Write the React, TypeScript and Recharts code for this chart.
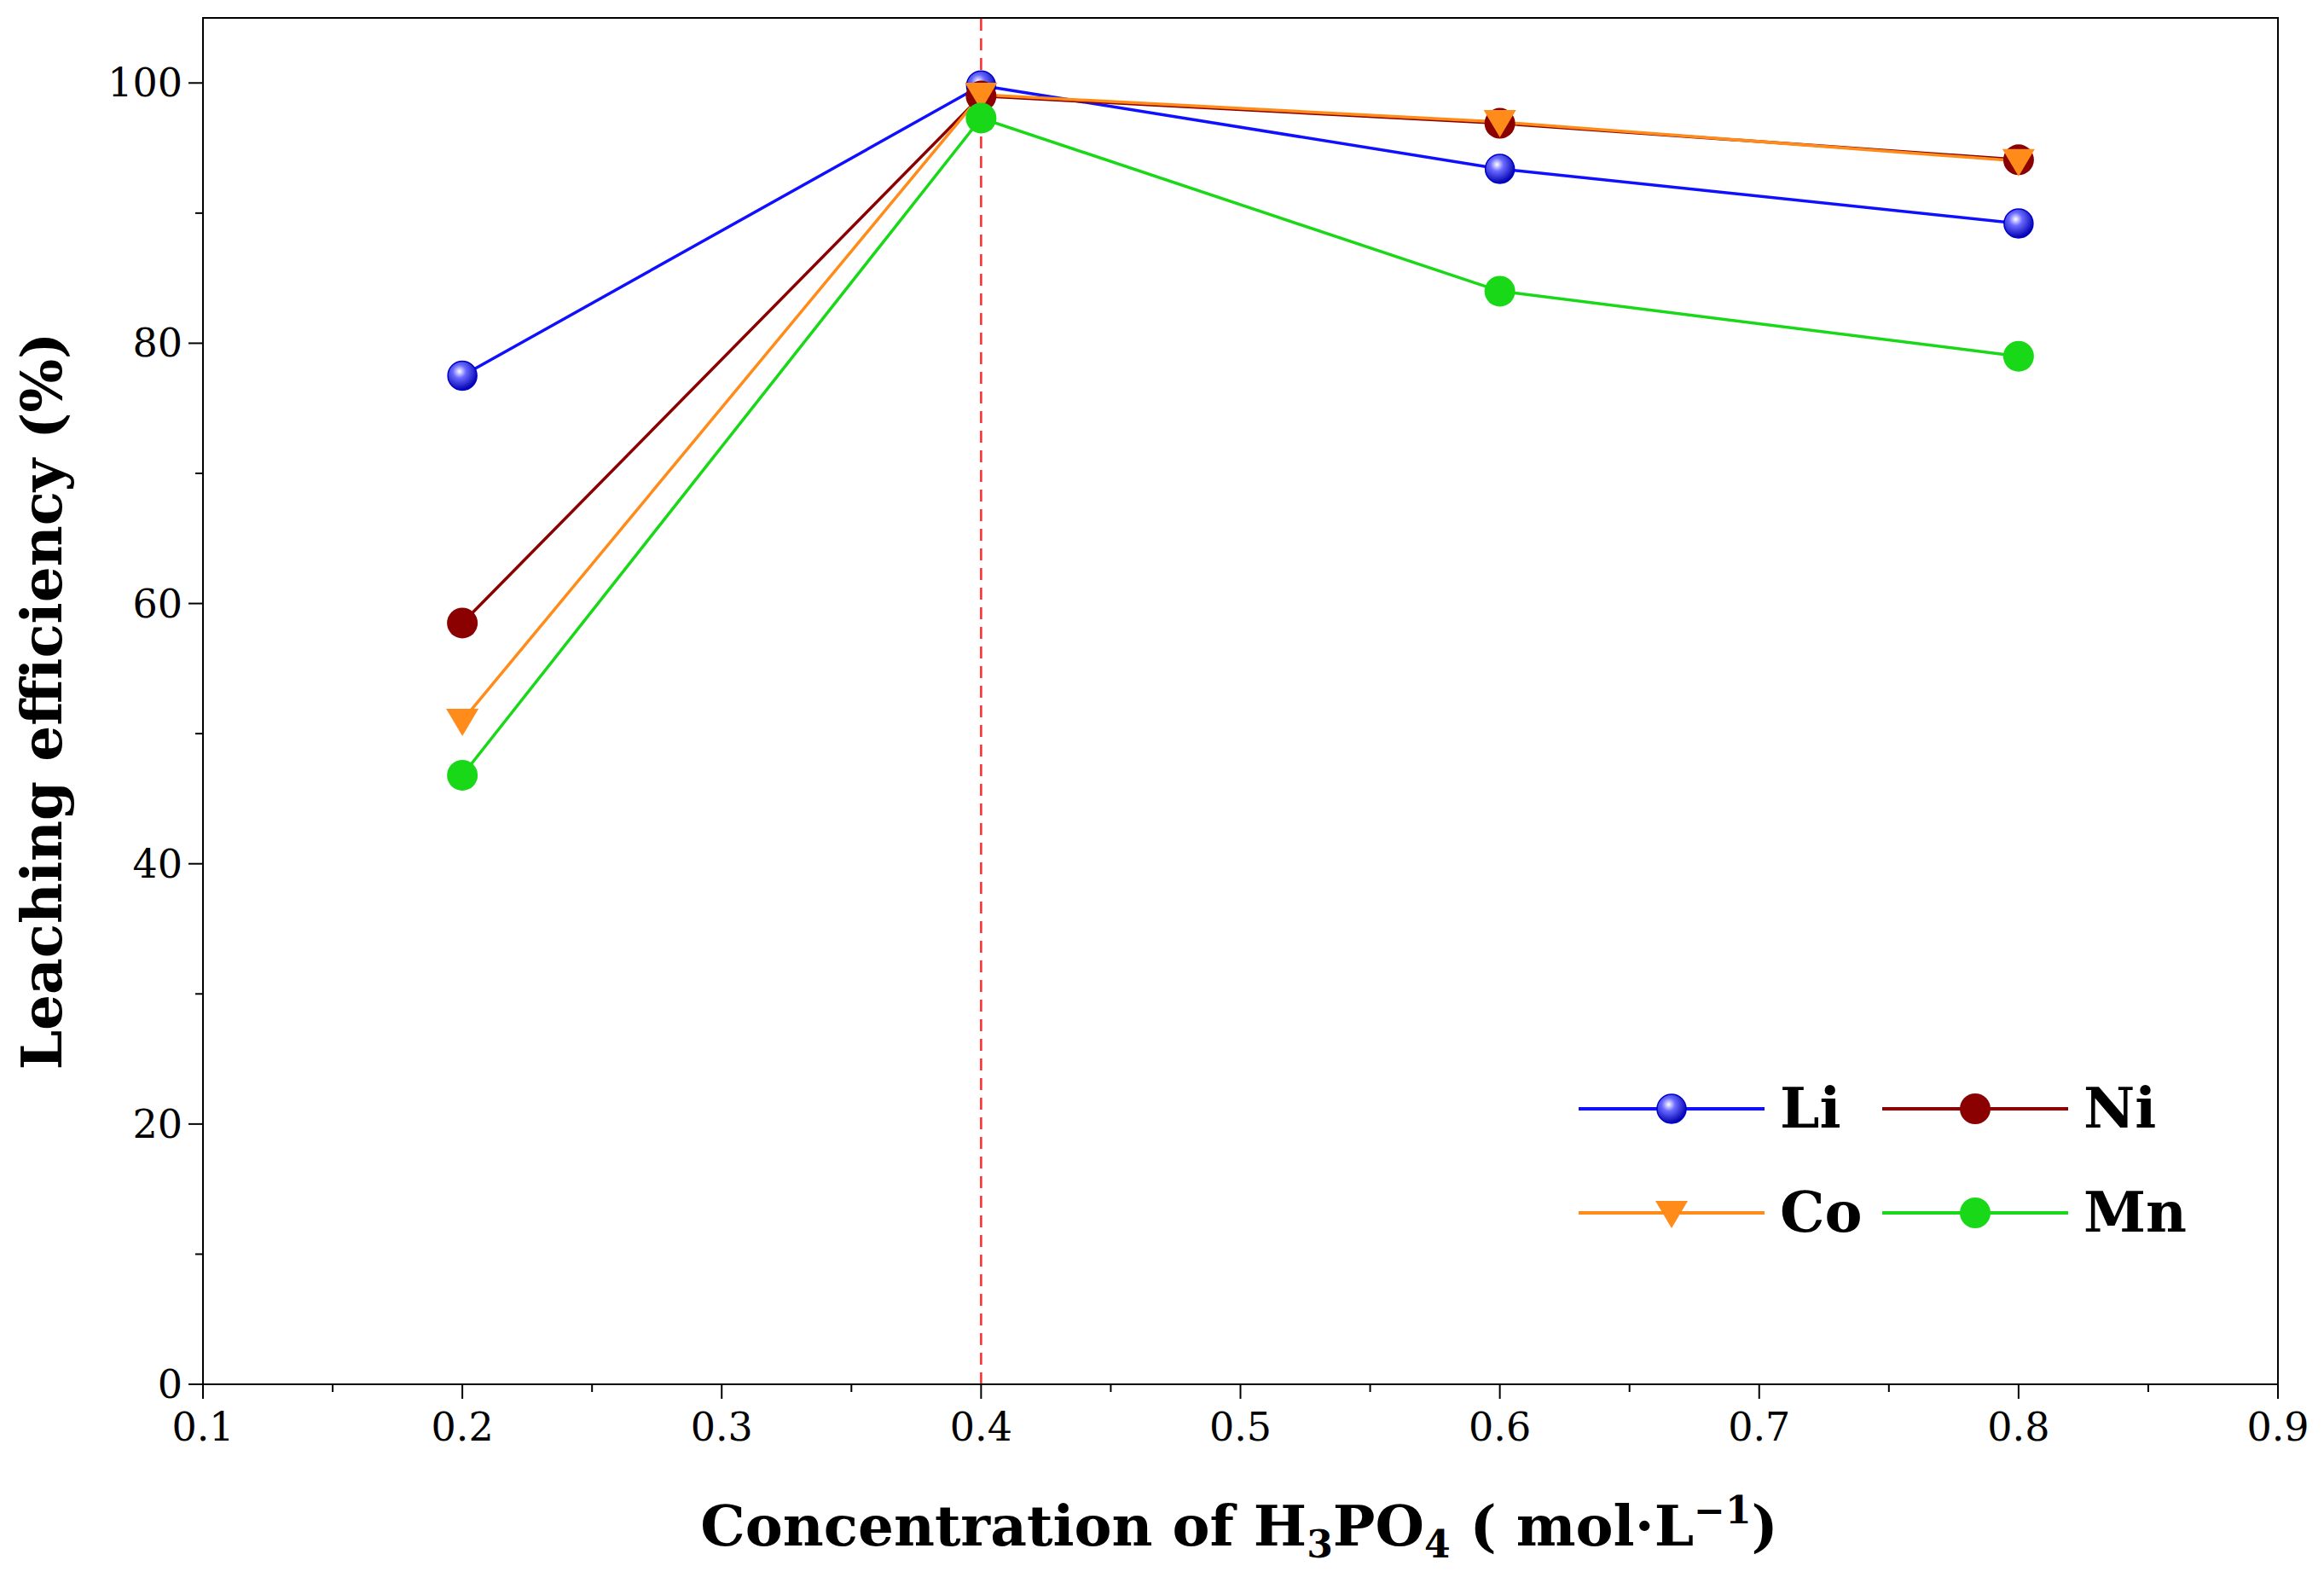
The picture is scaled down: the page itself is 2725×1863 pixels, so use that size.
import React from 'react';
import { LineChart, Line, XAxis, YAxis, ReferenceLine, ReferenceArea } from 'recharts';

const concentrations = [0.2, 0.4, 0.6, 0.8];
const li = [77.5, 99.8, 93.4, 89.2];
const ni = [58.5, 99.0, 96.9, 94.1];
const co = [51.0, 99.1, 97.0, 94.0];
const mn = [46.8, 97.3, 84.0, 79.0];

const xTicks = [0.1, 0.15, 0.2, 0.25, 0.3, 0.35, 0.4, 0.45, 0.5, 0.55, 0.6, 0.65, 0.7, 0.75, 0.8, 0.85, 0.9];
const yTicks = [0, 10, 20, 30, 40, 50, 60, 70, 80, 90, 100];

const data = concentrations.map((c, i) => ({ c, li: li[i], ni: ni[i], co: co[i], mn: mn[i] }));

const FONT = '"DejaVu Serif", "Liberation Serif", serif';

const isMajorX = (v: number) => Math.abs(Math.round(v * 10) - v * 10) < 1e-6;

const XTick = (p: any) => {
  const v = p.payload.value;
  const major = isMajorX(v);
  const y = p.y - 8;
  return (
    <g>
      <line x1={p.x} x2={p.x} y1={y} y2={y + (major ? 17 : 9)} stroke="#000" strokeWidth={2} />
      {major && (
        <text x={p.x} y={y + 66} textAnchor="middle" fontFamily={FONT} fontSize={46}>{v.toFixed(1)}</text>
      )}
    </g>
  );
};

const YTick = (p: any) => {
  const v = p.payload.value;
  const major = v % 20 === 0;
  const x = p.x + 8;
  return (
    <g>
      <line x1={x} x2={x - (major ? 17 : 9)} y1={p.y} y2={p.y} stroke="#000" strokeWidth={2} />
      {major && (
        <text x={x - 24} y={p.y + 16} textAnchor="end" fontFamily={FONT} fontSize={46}>{v}</text>
      )}
    </g>
  );
};

const LiDot = (p: any) => (
  <circle cx={p.cx} cy={p.cy} r={17} fill="url(#liGrad)" stroke="#0000cc" strokeWidth={1.5} />
);
const NiDot = (p: any) => <circle cx={p.cx} cy={p.cy} r={18} fill="#8b0000" />;
const MnDot = (p: any) => <circle cx={p.cx} cy={p.cy} r={18} fill="#18d818" />;
const CoDot = (p: any) => (
  <path d={`M${p.cx - 19},${p.cy - 14} L${p.cx + 19},${p.cy - 14} L${p.cx},${p.cy + 18} Z`} fill="#ff8c1a" />
);

const legendItems = [
  { name: 'Li', color: '#1010ff', Dot: LiDot },
  { name: 'Ni', color: '#8b0000', Dot: NiDot },
  { name: 'Co', color: '#ff8c1a', Dot: CoDot },
  { name: 'Mn', color: '#18d818', Dot: MnDot },
];

const LegendBox = () => (
  <svg width={720} height={220}>
    <defs>
      <radialGradient id="liGrad2" cx="40%" cy="35%" r="65%">
        <stop offset="0%" stopColor="#ffffff" />
        <stop offset="35%" stopColor="#6a6aff" />
        <stop offset="100%" stopColor="#0000b0" />
      </radialGradient>
    </defs>
    {legendItems.map((it, i) => {
      const x = (i % 2) * 356;
      const y = 40 + Math.floor(i / 2) * 122;
      const D = it.Dot;
      return (
        <g key={it.name}>
          <line x1={x} x2={x + 218} y1={y} y2={y} stroke={it.color} strokeWidth={4} />
          <D cx={x + 109} cy={y} />
          <text x={x + 236} y={y + 22} fontFamily={FONT} fontWeight="bold" fontSize={66}>{it.name}</text>
        </g>
      );
    })}
  </svg>
);

export default function App() {
  return (
    <div style={{ position: 'absolute', left: 0, top: 0, width: 2725, height: 1863, background: '#fff' }}>
      <LineChart width={2725} height={1863} data={data} margin={{ top: 21, right: 54, left: 98, bottom: 100 }}>
        <defs>
          <radialGradient id="liGrad" cx="40%" cy="35%" r="65%">
            <stop offset="0%" stopColor="#ffffff" />
            <stop offset="35%" stopColor="#6a6aff" />
            <stop offset="100%" stopColor="#0000b0" />
          </radialGradient>
        </defs>
        <XAxis dataKey="c" type="number" domain={[0.1, 0.9]} ticks={xTicks} interval={0} height={140}
          axisLine={{ stroke: '#000', strokeWidth: 2 }} tickLine={false} tick={<XTick />} />
        <YAxis type="number" domain={[0, 105]} ticks={yTicks} interval={0} width={140}
          axisLine={{ stroke: '#000', strokeWidth: 2 }} tickLine={false} tick={<YTick />} />
        <ReferenceArea x1={0.1} x2={0.9} y1={0} y2={105} fill="none" stroke="#000" strokeWidth={2} ifOverflow="visible" />
        <ReferenceLine x={0.4} stroke="#ff2a2a" strokeWidth={2.5} strokeDasharray="14 9" />
        <Line dataKey="li" stroke="#1010ff" strokeWidth={3.5} dot={<LiDot />} activeDot={false} isAnimationActive={false} />
        <Line dataKey="ni" stroke="#8b0000" strokeWidth={3.5} dot={<NiDot />} activeDot={false} isAnimationActive={false} />
        <Line dataKey="co" stroke="#ff8c1a" strokeWidth={3.5} dot={<CoDot />} activeDot={false} isAnimationActive={false} />
        <Line dataKey="mn" stroke="#18d818" strokeWidth={3.5} dot={<MnDot />} activeDot={false} isAnimationActive={false} />
      </LineChart>
      <svg width={2725} height={1863} style={{ position: 'absolute', left: 0, top: 0, pointerEvents: 'none' }}>
        <text x={1453} y={1812} textAnchor="middle" fontFamily={FONT} fontWeight="bold" fontSize={66}>
          Concentration of H<tspan fontSize={44} dy={14}>3</tspan>
          <tspan dy={-14}>PO</tspan><tspan fontSize={44} dy={14}>4</tspan>
          <tspan dy={-14}> ( mol·L</tspan><tspan fontSize={44} dy={-26}>−1</tspan>
          <tspan dy={26}>)</tspan>
        </text>
        <text x={72} y={822} transform="rotate(-90 72 822)" textAnchor="middle" fontFamily={FONT}
          fontWeight="bold" fontSize={66}>Leaching efficiency (%)</text>
      </svg>
      <div style={{ position: 'absolute', left: 1851, top: 1260 }}>
        <LegendBox />
      </div>
    </div>
  );
}
